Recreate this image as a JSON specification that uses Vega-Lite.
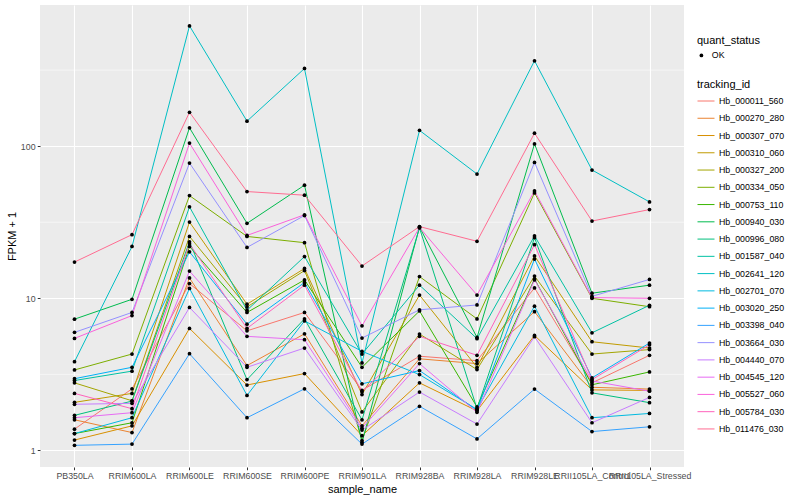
{
"$schema": "https://vega.github.io/schema/vega-lite/v6.json",
"width": 644, "height": 462,
"autosize": {"type": "none"},
"padding": {"left": 40, "top": 5, "right": 116, "bottom": 33},
"background": "white",
"config": {
  "view": {"fill": "#EBEBEB", "stroke": null},
  "font": "Liberation Sans",
  "axis": {"domain": false, "tickColor": "#333333", "tickSize": 2.75, "tickWidth": 1, "labelColor": "#4D4D4D", "labelFontSize": 8.8, "labelPadding": 2.2, "gridColor": "#FFFFFF", "gridWidth": 1.1, "titleFontSize": 11, "titleFontWeight": "normal", "titleColor": "#000000", "titlePadding": 2.75},
  "legend": {"titleFontSize": 11, "titleFontWeight": "normal", "titleColor": "#000000", "labelFontSize": 8.8, "labelColor": "#000000"}
},
"datasets": {
  "expression": [
{"tracking_id":"Hb_000011_560","sample_name":"PB350LA","fpkm_plus_1":1.38,"quant_status":"OK"},
{"tracking_id":"Hb_000011_560","sample_name":"RRIM600LA","fpkm_plus_1":2.54,"quant_status":"OK"},
{"tracking_id":"Hb_000011_560","sample_name":"RRIM600LE","fpkm_plus_1":12.5,"quant_status":"OK"},
{"tracking_id":"Hb_000011_560","sample_name":"RRIM600SE","fpkm_plus_1":6.11,"quant_status":"OK"},
{"tracking_id":"Hb_000011_560","sample_name":"RRIM600PE","fpkm_plus_1":8.07,"quant_status":"OK"},
{"tracking_id":"Hb_000011_560","sample_name":"RRIM901LA","fpkm_plus_1":2.48,"quant_status":"OK"},
{"tracking_id":"Hb_000011_560","sample_name":"RRIM928BA","fpkm_plus_1":4.16,"quant_status":"OK"},
{"tracking_id":"Hb_000011_560","sample_name":"RRIM928LA","fpkm_plus_1":3.89,"quant_status":"OK"},
{"tracking_id":"Hb_000011_560","sample_name":"RRIM928LE","fpkm_plus_1":11.7,"quant_status":"OK"},
{"tracking_id":"Hb_000011_560","sample_name":"RRII105LA_Control","fpkm_plus_1":2.78,"quant_status":"OK"},
{"tracking_id":"Hb_000011_560","sample_name":"RRII105LA_Stressed","fpkm_plus_1":4.22,"quant_status":"OK"},
{"tracking_id":"Hb_000270_280","sample_name":"PB350LA","fpkm_plus_1":1.59,"quant_status":"OK"},
{"tracking_id":"Hb_000270_280","sample_name":"RRIM600LA","fpkm_plus_1":1.31,"quant_status":"OK"},
{"tracking_id":"Hb_000270_280","sample_name":"RRIM600LE","fpkm_plus_1":13.6,"quant_status":"OK"},
{"tracking_id":"Hb_000270_280","sample_name":"RRIM600SE","fpkm_plus_1":3.61,"quant_status":"OK"},
{"tracking_id":"Hb_000270_280","sample_name":"RRIM600PE","fpkm_plus_1":5.84,"quant_status":"OK"},
{"tracking_id":"Hb_000270_280","sample_name":"RRIM901LA","fpkm_plus_1":1.45,"quant_status":"OK"},
{"tracking_id":"Hb_000270_280","sample_name":"RRIM928BA","fpkm_plus_1":4.0,"quant_status":"OK"},
{"tracking_id":"Hb_000270_280","sample_name":"RRIM928LA","fpkm_plus_1":3.72,"quant_status":"OK"},
{"tracking_id":"Hb_000270_280","sample_name":"RRIM928LE","fpkm_plus_1":8.17,"quant_status":"OK"},
{"tracking_id":"Hb_000270_280","sample_name":"RRII105LA_Control","fpkm_plus_1":2.6,"quant_status":"OK"},
{"tracking_id":"Hb_000270_280","sample_name":"RRII105LA_Stressed","fpkm_plus_1":2.53,"quant_status":"OK"},
{"tracking_id":"Hb_000307_070","sample_name":"PB350LA","fpkm_plus_1":1.17,"quant_status":"OK"},
{"tracking_id":"Hb_000307_070","sample_name":"RRIM600LA","fpkm_plus_1":1.45,"quant_status":"OK"},
{"tracking_id":"Hb_000307_070","sample_name":"RRIM600LE","fpkm_plus_1":6.34,"quant_status":"OK"},
{"tracking_id":"Hb_000307_070","sample_name":"RRIM600SE","fpkm_plus_1":2.69,"quant_status":"OK"},
{"tracking_id":"Hb_000307_070","sample_name":"RRIM600PE","fpkm_plus_1":3.2,"quant_status":"OK"},
{"tracking_id":"Hb_000307_070","sample_name":"RRIM901LA","fpkm_plus_1":1.25,"quant_status":"OK"},
{"tracking_id":"Hb_000307_070","sample_name":"RRIM928BA","fpkm_plus_1":2.78,"quant_status":"OK"},
{"tracking_id":"Hb_000307_070","sample_name":"RRIM928LA","fpkm_plus_1":1.82,"quant_status":"OK"},
{"tracking_id":"Hb_000307_070","sample_name":"RRIM928LE","fpkm_plus_1":5.7,"quant_status":"OK"},
{"tracking_id":"Hb_000307_070","sample_name":"RRII105LA_Control","fpkm_plus_1":2.5,"quant_status":"OK"},
{"tracking_id":"Hb_000307_070","sample_name":"RRII105LA_Stressed","fpkm_plus_1":2.48,"quant_status":"OK"},
{"tracking_id":"Hb_000310_060","sample_name":"PB350LA","fpkm_plus_1":2.07,"quant_status":"OK"},
{"tracking_id":"Hb_000310_060","sample_name":"RRIM600LA","fpkm_plus_1":2.37,"quant_status":"OK"},
{"tracking_id":"Hb_000310_060","sample_name":"RRIM600LE","fpkm_plus_1":31.7,"quant_status":"OK"},
{"tracking_id":"Hb_000310_060","sample_name":"RRIM600SE","fpkm_plus_1":9.14,"quant_status":"OK"},
{"tracking_id":"Hb_000310_060","sample_name":"RRIM600PE","fpkm_plus_1":15.7,"quant_status":"OK"},
{"tracking_id":"Hb_000310_060","sample_name":"RRIM901LA","fpkm_plus_1":2.33,"quant_status":"OK"},
{"tracking_id":"Hb_000310_060","sample_name":"RRIM928BA","fpkm_plus_1":10.5,"quant_status":"OK"},
{"tracking_id":"Hb_000310_060","sample_name":"RRIM928LA","fpkm_plus_1":3.52,"quant_status":"OK"},
{"tracking_id":"Hb_000310_060","sample_name":"RRIM928LE","fpkm_plus_1":19.0,"quant_status":"OK"},
{"tracking_id":"Hb_000310_060","sample_name":"RRII105LA_Control","fpkm_plus_1":5.18,"quant_status":"OK"},
{"tracking_id":"Hb_000310_060","sample_name":"RRII105LA_Stressed","fpkm_plus_1":4.71,"quant_status":"OK"},
{"tracking_id":"Hb_000327_200","sample_name":"PB350LA","fpkm_plus_1":2.78,"quant_status":"OK"},
{"tracking_id":"Hb_000327_200","sample_name":"RRIM600LA","fpkm_plus_1":2.12,"quant_status":"OK"},
{"tracking_id":"Hb_000327_200","sample_name":"RRIM600LE","fpkm_plus_1":25.5,"quant_status":"OK"},
{"tracking_id":"Hb_000327_200","sample_name":"RRIM600SE","fpkm_plus_1":8.77,"quant_status":"OK"},
{"tracking_id":"Hb_000327_200","sample_name":"RRIM600PE","fpkm_plus_1":15.2,"quant_status":"OK"},
{"tracking_id":"Hb_000327_200","sample_name":"RRIM901LA","fpkm_plus_1":1.79,"quant_status":"OK"},
{"tracking_id":"Hb_000327_200","sample_name":"RRIM928BA","fpkm_plus_1":5.82,"quant_status":"OK"},
{"tracking_id":"Hb_000327_200","sample_name":"RRIM928LA","fpkm_plus_1":3.4,"quant_status":"OK"},
{"tracking_id":"Hb_000327_200","sample_name":"RRIM928LE","fpkm_plus_1":14.0,"quant_status":"OK"},
{"tracking_id":"Hb_000327_200","sample_name":"RRII105LA_Control","fpkm_plus_1":4.3,"quant_status":"OK"},
{"tracking_id":"Hb_000327_200","sample_name":"RRII105LA_Stressed","fpkm_plus_1":4.6,"quant_status":"OK"},
{"tracking_id":"Hb_000334_050","sample_name":"PB350LA","fpkm_plus_1":3.38,"quant_status":"OK"},
{"tracking_id":"Hb_000334_050","sample_name":"RRIM600LA","fpkm_plus_1":4.3,"quant_status":"OK"},
{"tracking_id":"Hb_000334_050","sample_name":"RRIM600LE","fpkm_plus_1":47.3,"quant_status":"OK"},
{"tracking_id":"Hb_000334_050","sample_name":"RRIM600SE","fpkm_plus_1":25.5,"quant_status":"OK"},
{"tracking_id":"Hb_000334_050","sample_name":"RRIM600PE","fpkm_plus_1":23.2,"quant_status":"OK"},
{"tracking_id":"Hb_000334_050","sample_name":"RRIM901LA","fpkm_plus_1":1.16,"quant_status":"OK"},
{"tracking_id":"Hb_000334_050","sample_name":"RRIM928BA","fpkm_plus_1":13.9,"quant_status":"OK"},
{"tracking_id":"Hb_000334_050","sample_name":"RRIM928LA","fpkm_plus_1":7.32,"quant_status":"OK"},
{"tracking_id":"Hb_000334_050","sample_name":"RRIM928LE","fpkm_plus_1":49.3,"quant_status":"OK"},
{"tracking_id":"Hb_000334_050","sample_name":"RRII105LA_Control","fpkm_plus_1":10.0,"quant_status":"OK"},
{"tracking_id":"Hb_000334_050","sample_name":"RRII105LA_Stressed","fpkm_plus_1":8.8,"quant_status":"OK"},
{"tracking_id":"Hb_000753_110","sample_name":"PB350LA","fpkm_plus_1":1.29,"quant_status":"OK"},
{"tracking_id":"Hb_000753_110","sample_name":"RRIM600LA","fpkm_plus_1":1.52,"quant_status":"OK"},
{"tracking_id":"Hb_000753_110","sample_name":"RRIM600LE","fpkm_plus_1":21.9,"quant_status":"OK"},
{"tracking_id":"Hb_000753_110","sample_name":"RRIM600SE","fpkm_plus_1":8.07,"quant_status":"OK"},
{"tracking_id":"Hb_000753_110","sample_name":"RRIM600PE","fpkm_plus_1":13.2,"quant_status":"OK"},
{"tracking_id":"Hb_000753_110","sample_name":"RRIM901LA","fpkm_plus_1":3.52,"quant_status":"OK"},
{"tracking_id":"Hb_000753_110","sample_name":"RRIM928BA","fpkm_plus_1":8.25,"quant_status":"OK"},
{"tracking_id":"Hb_000753_110","sample_name":"RRIM928LA","fpkm_plus_1":1.93,"quant_status":"OK"},
{"tracking_id":"Hb_000753_110","sample_name":"RRIM928LE","fpkm_plus_1":13.4,"quant_status":"OK"},
{"tracking_id":"Hb_000753_110","sample_name":"RRII105LA_Control","fpkm_plus_1":2.7,"quant_status":"OK"},
{"tracking_id":"Hb_000753_110","sample_name":"RRII105LA_Stressed","fpkm_plus_1":3.28,"quant_status":"OK"},
{"tracking_id":"Hb_000940_030","sample_name":"PB350LA","fpkm_plus_1":7.29,"quant_status":"OK"},
{"tracking_id":"Hb_000940_030","sample_name":"RRIM600LA","fpkm_plus_1":9.85,"quant_status":"OK"},
{"tracking_id":"Hb_000940_030","sample_name":"RRIM600LE","fpkm_plus_1":132,"quant_status":"OK"},
{"tracking_id":"Hb_000940_030","sample_name":"RRIM600SE","fpkm_plus_1":31.1,"quant_status":"OK"},
{"tracking_id":"Hb_000940_030","sample_name":"RRIM600PE","fpkm_plus_1":55.4,"quant_status":"OK"},
{"tracking_id":"Hb_000940_030","sample_name":"RRIM901LA","fpkm_plus_1":1.13,"quant_status":"OK"},
{"tracking_id":"Hb_000940_030","sample_name":"RRIM928BA","fpkm_plus_1":29.4,"quant_status":"OK"},
{"tracking_id":"Hb_000940_030","sample_name":"RRIM928LA","fpkm_plus_1":5.53,"quant_status":"OK"},
{"tracking_id":"Hb_000940_030","sample_name":"RRIM928LE","fpkm_plus_1":103.5,"quant_status":"OK"},
{"tracking_id":"Hb_000940_030","sample_name":"RRII105LA_Control","fpkm_plus_1":10.8,"quant_status":"OK"},
{"tracking_id":"Hb_000940_030","sample_name":"RRII105LA_Stressed","fpkm_plus_1":12.2,"quant_status":"OK"},
{"tracking_id":"Hb_000996_080","sample_name":"PB350LA","fpkm_plus_1":1.7,"quant_status":"OK"},
{"tracking_id":"Hb_000996_080","sample_name":"RRIM600LA","fpkm_plus_1":2.11,"quant_status":"OK"},
{"tracking_id":"Hb_000996_080","sample_name":"RRIM600LE","fpkm_plus_1":23.5,"quant_status":"OK"},
{"tracking_id":"Hb_000996_080","sample_name":"RRIM600SE","fpkm_plus_1":2.92,"quant_status":"OK"},
{"tracking_id":"Hb_000996_080","sample_name":"RRIM600PE","fpkm_plus_1":7.32,"quant_status":"OK"},
{"tracking_id":"Hb_000996_080","sample_name":"RRIM901LA","fpkm_plus_1":1.59,"quant_status":"OK"},
{"tracking_id":"Hb_000996_080","sample_name":"RRIM928BA","fpkm_plus_1":29.0,"quant_status":"OK"},
{"tracking_id":"Hb_000996_080","sample_name":"RRIM928LA","fpkm_plus_1":1.88,"quant_status":"OK"},
{"tracking_id":"Hb_000996_080","sample_name":"RRIM928LE","fpkm_plus_1":25.0,"quant_status":"OK"},
{"tracking_id":"Hb_000996_080","sample_name":"RRII105LA_Control","fpkm_plus_1":2.39,"quant_status":"OK"},
{"tracking_id":"Hb_000996_080","sample_name":"RRII105LA_Stressed","fpkm_plus_1":2.06,"quant_status":"OK"},
{"tracking_id":"Hb_001587_040","sample_name":"PB350LA","fpkm_plus_1":2.88,"quant_status":"OK"},
{"tracking_id":"Hb_001587_040","sample_name":"RRIM600LA","fpkm_plus_1":3.32,"quant_status":"OK"},
{"tracking_id":"Hb_001587_040","sample_name":"RRIM600LE","fpkm_plus_1":39.9,"quant_status":"OK"},
{"tracking_id":"Hb_001587_040","sample_name":"RRIM600SE","fpkm_plus_1":8.35,"quant_status":"OK"},
{"tracking_id":"Hb_001587_040","sample_name":"RRIM600PE","fpkm_plus_1":18.8,"quant_status":"OK"},
{"tracking_id":"Hb_001587_040","sample_name":"RRIM901LA","fpkm_plus_1":4.3,"quant_status":"OK"},
{"tracking_id":"Hb_001587_040","sample_name":"RRIM928BA","fpkm_plus_1":12.2,"quant_status":"OK"},
{"tracking_id":"Hb_001587_040","sample_name":"RRIM928LA","fpkm_plus_1":5.43,"quant_status":"OK"},
{"tracking_id":"Hb_001587_040","sample_name":"RRIM928LE","fpkm_plus_1":25.7,"quant_status":"OK"},
{"tracking_id":"Hb_001587_040","sample_name":"RRII105LA_Control","fpkm_plus_1":5.93,"quant_status":"OK"},
{"tracking_id":"Hb_001587_040","sample_name":"RRII105LA_Stressed","fpkm_plus_1":9.0,"quant_status":"OK"},
{"tracking_id":"Hb_002641_120","sample_name":"PB350LA","fpkm_plus_1":3.83,"quant_status":"OK"},
{"tracking_id":"Hb_002641_120","sample_name":"RRIM600LA","fpkm_plus_1":21.9,"quant_status":"OK"},
{"tracking_id":"Hb_002641_120","sample_name":"RRIM600LE","fpkm_plus_1":617,"quant_status":"OK"},
{"tracking_id":"Hb_002641_120","sample_name":"RRIM600SE","fpkm_plus_1":146,"quant_status":"OK"},
{"tracking_id":"Hb_002641_120","sample_name":"RRIM600PE","fpkm_plus_1":324,"quant_status":"OK"},
{"tracking_id":"Hb_002641_120","sample_name":"RRIM901LA","fpkm_plus_1":3.76,"quant_status":"OK"},
{"tracking_id":"Hb_002641_120","sample_name":"RRIM928BA","fpkm_plus_1":127,"quant_status":"OK"},
{"tracking_id":"Hb_002641_120","sample_name":"RRIM928LA","fpkm_plus_1":65.6,"quant_status":"OK"},
{"tracking_id":"Hb_002641_120","sample_name":"RRIM928LE","fpkm_plus_1":364,"quant_status":"OK"},
{"tracking_id":"Hb_002641_120","sample_name":"RRII105LA_Control","fpkm_plus_1":69.7,"quant_status":"OK"},
{"tracking_id":"Hb_002641_120","sample_name":"RRII105LA_Stressed","fpkm_plus_1":43,"quant_status":"OK"},
{"tracking_id":"Hb_002701_070","sample_name":"PB350LA","fpkm_plus_1":1.29,"quant_status":"OK"},
{"tracking_id":"Hb_002701_070","sample_name":"RRIM600LA","fpkm_plus_1":1.64,"quant_status":"OK"},
{"tracking_id":"Hb_002701_070","sample_name":"RRIM600LE","fpkm_plus_1":11.6,"quant_status":"OK"},
{"tracking_id":"Hb_002701_070","sample_name":"RRIM600SE","fpkm_plus_1":2.3,"quant_status":"OK"},
{"tracking_id":"Hb_002701_070","sample_name":"RRIM600PE","fpkm_plus_1":7.1,"quant_status":"OK"},
{"tracking_id":"Hb_002701_070","sample_name":"RRIM901LA","fpkm_plus_1":4.48,"quant_status":"OK"},
{"tracking_id":"Hb_002701_070","sample_name":"RRIM928BA","fpkm_plus_1":3.15,"quant_status":"OK"},
{"tracking_id":"Hb_002701_070","sample_name":"RRIM928LA","fpkm_plus_1":1.86,"quant_status":"OK"},
{"tracking_id":"Hb_002701_070","sample_name":"RRIM928LE","fpkm_plus_1":8.87,"quant_status":"OK"},
{"tracking_id":"Hb_002701_070","sample_name":"RRII105LA_Control","fpkm_plus_1":1.64,"quant_status":"OK"},
{"tracking_id":"Hb_002701_070","sample_name":"RRII105LA_Stressed","fpkm_plus_1":1.75,"quant_status":"OK"},
{"tracking_id":"Hb_003020_250","sample_name":"PB350LA","fpkm_plus_1":2.96,"quant_status":"OK"},
{"tracking_id":"Hb_003020_250","sample_name":"RRIM600LA","fpkm_plus_1":3.52,"quant_status":"OK"},
{"tracking_id":"Hb_003020_250","sample_name":"RRIM600LE","fpkm_plus_1":20.2,"quant_status":"OK"},
{"tracking_id":"Hb_003020_250","sample_name":"RRIM600SE","fpkm_plus_1":6.76,"quant_status":"OK"},
{"tracking_id":"Hb_003020_250","sample_name":"RRIM600PE","fpkm_plus_1":12.7,"quant_status":"OK"},
{"tracking_id":"Hb_003020_250","sample_name":"RRIM901LA","fpkm_plus_1":2.74,"quant_status":"OK"},
{"tracking_id":"Hb_003020_250","sample_name":"RRIM928BA","fpkm_plus_1":3.35,"quant_status":"OK"},
{"tracking_id":"Hb_003020_250","sample_name":"RRIM928LA","fpkm_plus_1":1.84,"quant_status":"OK"},
{"tracking_id":"Hb_003020_250","sample_name":"RRIM928LE","fpkm_plus_1":18.1,"quant_status":"OK"},
{"tracking_id":"Hb_003020_250","sample_name":"RRII105LA_Control","fpkm_plus_1":3.0,"quant_status":"OK"},
{"tracking_id":"Hb_003020_250","sample_name":"RRII105LA_Stressed","fpkm_plus_1":5.08,"quant_status":"OK"},
{"tracking_id":"Hb_003398_040","sample_name":"PB350LA","fpkm_plus_1":1.08,"quant_status":"OK"},
{"tracking_id":"Hb_003398_040","sample_name":"RRIM600LA","fpkm_plus_1":1.1,"quant_status":"OK"},
{"tracking_id":"Hb_003398_040","sample_name":"RRIM600LE","fpkm_plus_1":4.32,"quant_status":"OK"},
{"tracking_id":"Hb_003398_040","sample_name":"RRIM600SE","fpkm_plus_1":1.64,"quant_status":"OK"},
{"tracking_id":"Hb_003398_040","sample_name":"RRIM600PE","fpkm_plus_1":2.54,"quant_status":"OK"},
{"tracking_id":"Hb_003398_040","sample_name":"RRIM901LA","fpkm_plus_1":1.1,"quant_status":"OK"},
{"tracking_id":"Hb_003398_040","sample_name":"RRIM928BA","fpkm_plus_1":1.95,"quant_status":"OK"},
{"tracking_id":"Hb_003398_040","sample_name":"RRIM928LA","fpkm_plus_1":1.19,"quant_status":"OK"},
{"tracking_id":"Hb_003398_040","sample_name":"RRIM928LE","fpkm_plus_1":2.53,"quant_status":"OK"},
{"tracking_id":"Hb_003398_040","sample_name":"RRII105LA_Control","fpkm_plus_1":1.33,"quant_status":"OK"},
{"tracking_id":"Hb_003398_040","sample_name":"RRII105LA_Stressed","fpkm_plus_1":1.43,"quant_status":"OK"},
{"tracking_id":"Hb_003664_030","sample_name":"PB350LA","fpkm_plus_1":5.97,"quant_status":"OK"},
{"tracking_id":"Hb_003664_030","sample_name":"RRIM600LA","fpkm_plus_1":8.07,"quant_status":"OK"},
{"tracking_id":"Hb_003664_030","sample_name":"RRIM600LE","fpkm_plus_1":77.4,"quant_status":"OK"},
{"tracking_id":"Hb_003664_030","sample_name":"RRIM600SE","fpkm_plus_1":21.6,"quant_status":"OK"},
{"tracking_id":"Hb_003664_030","sample_name":"RRIM600PE","fpkm_plus_1":35.0,"quant_status":"OK"},
{"tracking_id":"Hb_003664_030","sample_name":"RRIM901LA","fpkm_plus_1":5.48,"quant_status":"OK"},
{"tracking_id":"Hb_003664_030","sample_name":"RRIM928BA","fpkm_plus_1":8.4,"quant_status":"OK"},
{"tracking_id":"Hb_003664_030","sample_name":"RRIM928LA","fpkm_plus_1":9.04,"quant_status":"OK"},
{"tracking_id":"Hb_003664_030","sample_name":"RRIM928LE","fpkm_plus_1":78.2,"quant_status":"OK"},
{"tracking_id":"Hb_003664_030","sample_name":"RRII105LA_Control","fpkm_plus_1":10.3,"quant_status":"OK"},
{"tracking_id":"Hb_003664_030","sample_name":"RRII105LA_Stressed","fpkm_plus_1":13.3,"quant_status":"OK"},
{"tracking_id":"Hb_004440_070","sample_name":"PB350LA","fpkm_plus_1":2.01,"quant_status":"OK"},
{"tracking_id":"Hb_004440_070","sample_name":"RRIM600LA","fpkm_plus_1":2.04,"quant_status":"OK"},
{"tracking_id":"Hb_004440_070","sample_name":"RRIM600LE","fpkm_plus_1":8.7,"quant_status":"OK"},
{"tracking_id":"Hb_004440_070","sample_name":"RRIM600SE","fpkm_plus_1":3.52,"quant_status":"OK"},
{"tracking_id":"Hb_004440_070","sample_name":"RRIM600PE","fpkm_plus_1":4.71,"quant_status":"OK"},
{"tracking_id":"Hb_004440_070","sample_name":"RRIM901LA","fpkm_plus_1":1.36,"quant_status":"OK"},
{"tracking_id":"Hb_004440_070","sample_name":"RRIM928BA","fpkm_plus_1":2.42,"quant_status":"OK"},
{"tracking_id":"Hb_004440_070","sample_name":"RRIM928LA","fpkm_plus_1":1.49,"quant_status":"OK"},
{"tracking_id":"Hb_004440_070","sample_name":"RRIM928LE","fpkm_plus_1":5.59,"quant_status":"OK"},
{"tracking_id":"Hb_004440_070","sample_name":"RRII105LA_Control","fpkm_plus_1":1.52,"quant_status":"OK"},
{"tracking_id":"Hb_004440_070","sample_name":"RRII105LA_Stressed","fpkm_plus_1":2.23,"quant_status":"OK"},
{"tracking_id":"Hb_004545_120","sample_name":"PB350LA","fpkm_plus_1":1.64,"quant_status":"OK"},
{"tracking_id":"Hb_004545_120","sample_name":"RRIM600LA","fpkm_plus_1":1.77,"quant_status":"OK"},
{"tracking_id":"Hb_004545_120","sample_name":"RRIM600LE","fpkm_plus_1":15.1,"quant_status":"OK"},
{"tracking_id":"Hb_004545_120","sample_name":"RRIM600SE","fpkm_plus_1":5.62,"quant_status":"OK"},
{"tracking_id":"Hb_004545_120","sample_name":"RRIM600PE","fpkm_plus_1":5.34,"quant_status":"OK"},
{"tracking_id":"Hb_004545_120","sample_name":"RRIM901LA","fpkm_plus_1":1.4,"quant_status":"OK"},
{"tracking_id":"Hb_004545_120","sample_name":"RRIM928BA","fpkm_plus_1":3.72,"quant_status":"OK"},
{"tracking_id":"Hb_004545_120","sample_name":"RRIM928LA","fpkm_plus_1":1.78,"quant_status":"OK"},
{"tracking_id":"Hb_004545_120","sample_name":"RRIM928LE","fpkm_plus_1":13.2,"quant_status":"OK"},
{"tracking_id":"Hb_004545_120","sample_name":"RRII105LA_Control","fpkm_plus_1":2.86,"quant_status":"OK"},
{"tracking_id":"Hb_004545_120","sample_name":"RRII105LA_Stressed","fpkm_plus_1":2.45,"quant_status":"OK"},
{"tracking_id":"Hb_005527_060","sample_name":"PB350LA","fpkm_plus_1":5.45,"quant_status":"OK"},
{"tracking_id":"Hb_005527_060","sample_name":"RRIM600LA","fpkm_plus_1":7.7,"quant_status":"OK"},
{"tracking_id":"Hb_005527_060","sample_name":"RRIM600LE","fpkm_plus_1":104.7,"quant_status":"OK"},
{"tracking_id":"Hb_005527_060","sample_name":"RRIM600SE","fpkm_plus_1":25.9,"quant_status":"OK"},
{"tracking_id":"Hb_005527_060","sample_name":"RRIM600PE","fpkm_plus_1":35.4,"quant_status":"OK"},
{"tracking_id":"Hb_005527_060","sample_name":"RRIM901LA","fpkm_plus_1":6.59,"quant_status":"OK"},
{"tracking_id":"Hb_005527_060","sample_name":"RRIM928BA","fpkm_plus_1":29.2,"quant_status":"OK"},
{"tracking_id":"Hb_005527_060","sample_name":"RRIM928LA","fpkm_plus_1":10.5,"quant_status":"OK"},
{"tracking_id":"Hb_005527_060","sample_name":"RRIM928LE","fpkm_plus_1":50.8,"quant_status":"OK"},
{"tracking_id":"Hb_005527_060","sample_name":"RRII105LA_Control","fpkm_plus_1":10.1,"quant_status":"OK"},
{"tracking_id":"Hb_005527_060","sample_name":"RRII105LA_Stressed","fpkm_plus_1":10.0,"quant_status":"OK"},
{"tracking_id":"Hb_005784_030","sample_name":"PB350LA","fpkm_plus_1":2.37,"quant_status":"OK"},
{"tracking_id":"Hb_005784_030","sample_name":"RRIM600LA","fpkm_plus_1":1.88,"quant_status":"OK"},
{"tracking_id":"Hb_005784_030","sample_name":"RRIM600LE","fpkm_plus_1":22.8,"quant_status":"OK"},
{"tracking_id":"Hb_005784_030","sample_name":"RRIM600SE","fpkm_plus_1":6.34,"quant_status":"OK"},
{"tracking_id":"Hb_005784_030","sample_name":"RRIM600PE","fpkm_plus_1":12.2,"quant_status":"OK"},
{"tracking_id":"Hb_005784_030","sample_name":"RRIM901LA","fpkm_plus_1":2.43,"quant_status":"OK"},
{"tracking_id":"Hb_005784_030","sample_name":"RRIM928BA","fpkm_plus_1":5.62,"quant_status":"OK"},
{"tracking_id":"Hb_005784_030","sample_name":"RRIM928LA","fpkm_plus_1":4.22,"quant_status":"OK"},
{"tracking_id":"Hb_005784_030","sample_name":"RRIM928LE","fpkm_plus_1":22.5,"quant_status":"OK"},
{"tracking_id":"Hb_005784_030","sample_name":"RRII105LA_Control","fpkm_plus_1":2.92,"quant_status":"OK"},
{"tracking_id":"Hb_005784_030","sample_name":"RRII105LA_Stressed","fpkm_plus_1":4.95,"quant_status":"OK"},
{"tracking_id":"Hb_011476_030","sample_name":"PB350LA","fpkm_plus_1":17.3,"quant_status":"OK"},
{"tracking_id":"Hb_011476_030","sample_name":"RRIM600LA","fpkm_plus_1":26.2,"quant_status":"OK"},
{"tracking_id":"Hb_011476_030","sample_name":"RRIM600LE","fpkm_plus_1":167,"quant_status":"OK"},
{"tracking_id":"Hb_011476_030","sample_name":"RRIM600SE","fpkm_plus_1":50.3,"quant_status":"OK"},
{"tracking_id":"Hb_011476_030","sample_name":"RRIM600PE","fpkm_plus_1":47.6,"quant_status":"OK"},
{"tracking_id":"Hb_011476_030","sample_name":"RRIM901LA","fpkm_plus_1":16.3,"quant_status":"OK"},
{"tracking_id":"Hb_011476_030","sample_name":"RRIM928BA","fpkm_plus_1":29.6,"quant_status":"OK"},
{"tracking_id":"Hb_011476_030","sample_name":"RRIM928LA","fpkm_plus_1":23.7,"quant_status":"OK"},
{"tracking_id":"Hb_011476_030","sample_name":"RRIM928LE","fpkm_plus_1":121.6,"quant_status":"OK"},
{"tracking_id":"Hb_011476_030","sample_name":"RRII105LA_Control","fpkm_plus_1":32.2,"quant_status":"OK"},
{"tracking_id":"Hb_011476_030","sample_name":"RRII105LA_Stressed","fpkm_plus_1":38.3,"quant_status":"OK"}
  ],
  "minor": [{"minor_break": 3.1623}, {"minor_break": 31.623}, {"minor_break": 316.23}]
},
"layer": [
  {
    "data": {"name": "minor"},
    "mark": {"type": "rule", "color": "#FFFFFF", "strokeWidth": 0.55},
    "encoding": {
      "y": {"field": "minor_break", "type": "quantitative", "scale": {"type": "log", "domain": [0.778, 847], "nice": false, "zero": false}, "axis": {"values": [1, 10, 100], "title": "FPKM + 1", "grid": true}}
    }
  },
  {
    "data": {"name": "expression"},
    "mark": {"type": "line", "strokeWidth": 1},
    "encoding": {
      "x": {"field": "sample_name", "type": "nominal", "sort": ["PB350LA","RRIM600LA","RRIM600LE","RRIM600SE","RRIM600PE","RRIM901LA","RRIM928BA","RRIM928LA","RRIM928LE","RRII105LA_Control","RRII105LA_Stressed"], "scale": {"type": "point", "padding": 0.6}, "axis": {"labelAngle": 0, "title": "sample_name", "grid": true, "labelOverlap": false}},
      "y": {"field": "fpkm_plus_1", "type": "quantitative", "scale": {"type": "log", "domain": [0.778, 847], "nice": false, "zero": false}, "axis": {"values": [1, 10, 100], "title": "FPKM + 1", "grid": true}},
      "color": {"field": "tracking_id", "type": "nominal", "scale": {"range": ["#F8766D","#EA8331","#D89000","#C09B00","#A3A500","#7CAE00","#39B600","#00BB4E","#00BF7D","#00C1A3","#00BFC4","#00BAE0","#00B0F6","#35A2FF","#9590FF","#C77CFF","#E76BF3","#FA62DB","#FF62BC","#FF6C91"]}, "legend": {"orient": "none", "legendX": 657, "legendY": 74, "title": "tracking_id", "symbolType": "stroke", "symbolSize": 289, "symbolStrokeWidth": 1, "rowPadding": 3.26, "titlePadding": 2, "labelOffset": 4}}
    }
  },
  {
    "data": {"name": "expression"},
    "mark": {"type": "point", "filled": true, "size": 14, "color": "#000000", "opacity": 1},
    "encoding": {
      "x": {"field": "sample_name", "type": "nominal", "sort": ["PB350LA","RRIM600LA","RRIM600LE","RRIM600SE","RRIM600PE","RRIM901LA","RRIM928BA","RRIM928LA","RRIM928LE","RRII105LA_Control","RRII105LA_Stressed"]},
      "y": {"field": "fpkm_plus_1", "type": "quantitative"},
      "shape": {"field": "quant_status", "type": "nominal", "scale": {"range": ["circle"]}, "legend": {"orient": "none", "legendX": 657, "legendY": 30, "title": "quant_status", "symbolSize": 14, "symbolFillColor": "#000000", "symbolStrokeColor": "#000000", "titlePadding": 5, "labelOffset": 6}}
    }
  }
]
}
